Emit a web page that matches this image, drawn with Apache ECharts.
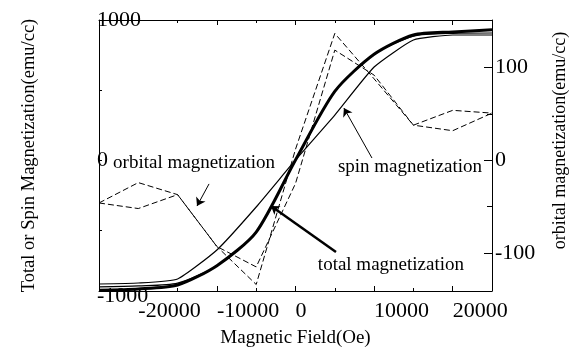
<!DOCTYPE html>
<html>
<head>
<meta charset="utf-8">
<script src="https://cdn.jsdelivr.net/npm/echarts@6/dist/echarts.min.js"></script>
<style>
  html, body { margin: 0; padding: 0; background: #ffffff; }
  #chart { width: 573px; height: 353px; }
</style>
</head>
<body>
<div id="chart"></div>
<script>
// field steps (Oe)
const fieldOe = [-25000, -20000, -15000, -10000, -5000, 0, 5000, 10000, 15000, 20000, 25000];

// left axis (emu/cc)
const totalMag = [-930, -921, -893, -755, -515, 0, 490, 755, 893, 915, 930];
const spinMagA = [-886, -879, -850, -643, -336, 0, 321, 664, 857, 893, 893];
const spinMagB = [-907, -900, -880, -755, -515, 0, 490, 755, 885, 905, 907];

// right axis (emu/cc)
const orbitalA = [-46, -52, -37, -93, -134, 12, 137, 88, 38, 54, 51];
const orbitalB = [-46, -24, -37, -93, -115, -25, 119, 92, 38, 32, 51];

// tick labels
const xLabelValues = [-20000, -10000, 0, 10000, 20000];
const xMajorTicks = [-10000, 0, 10000, 20000];
const xMinorTicks = [-15000, -5000, 5000, 15000];
const leftLabelValues = [-936, 0, 1000];
const leftTicks = [-500, 0, 500];
const rightLabelValues = [-100, 0, 100];
const rightMinorTicks = [-50, 50];

// annotations, in data units of the left axis
const notes = [
  { name: 'orbital magnetization', coord: [-12900, -20] },
  { name: 'spin magnetization', coord: [14560, -50] },
  { name: 'total magnetization', coord: [12140, -750] },
];
const arrows = [
  { from: [-11000, -171], to: [-12530, -329], width: 1 },
  { from: [9730, 14], to: [6160, 371], width: 1 },
  { from: [5150, -657], to: [-3120, -329], width: 2.5 },
];

const FONT = 'Liberation Serif';
const X_MIN = -25000, X_MAX = 25000;
const L_MIN = -936, L_MAX = 1000;
const R_MIN = -141, R_MAX = 151.5;

const pairs = (ys) => fieldOe.map((x, i) => [x, ys[i]]);

const chart = echarts.init(document.getElementById('chart'));

const bareX = (position, ticks, len) => ({
  type: 'value', position, min: X_MIN, max: X_MAX,
  axisLine: { show: false, onZero: false },
  axisTick: { show: true, inside: true, length: len, customValues: ticks, lineStyle: { color: '#000' } },
  axisLabel: { show: false },
  splitLine: { show: false },
});

const option = {
  backgroundColor: '#ffffff',
  animation: false,
  grid: { left: 99, right: 81, top: 20, bottom: 62, outerBoundsMode: 'none' },
  xAxis: [
    {
      type: 'value', position: 'bottom', min: X_MIN, max: X_MAX,
      name: 'Magnetic Field(Oe)', nameLocation: 'middle', nameGap: 38,
      nameTextStyle: { fontFamily: FONT, fontSize: 19, color: '#000' },
      axisLine: { show: true, onZero: false, lineStyle: { color: '#000', width: 1 } },
      axisTick: { show: true, inside: true, length: 5, customValues: xMajorTicks, lineStyle: { color: '#000' } },
      axisLabel: {
        customValues: xLabelValues, align: 'left', margin: 9,
        fontFamily: FONT, fontSize: 22, color: '#000',
        formatter: (v) => String(v),
      },
      splitLine: { show: false },
    },
    bareX('bottom', xMinorTicks, 3),
    {
      type: 'value', position: 'top', min: X_MIN, max: X_MAX,
      axisLine: { show: true, onZero: false, lineStyle: { color: '#000', width: 1 } },
      axisTick: { show: true, inside: true, length: 5, customValues: xMajorTicks, lineStyle: { color: '#000' } },
      axisLabel: { show: false },
      splitLine: { show: false },
    },
    bareX('top', xMinorTicks, 3),
  ],
  yAxis: [
    {
      type: 'value', position: 'left', min: L_MIN, max: L_MAX,
      name: 'Total or Spin Magnetization(emu/cc)', nameLocation: 'middle', nameGap: 60, nameRotate: 90,
      nameTextStyle: { fontFamily: FONT, fontSize: 18.5, color: '#000' },
      axisLine: { show: true, onZero: false, lineStyle: { color: '#000', width: 1 } },
      axisTick: { show: true, inside: true, length: 3, customValues: leftTicks, lineStyle: { color: '#000' } },
      axisLabel: {
        customValues: leftLabelValues, align: 'left', margin: 2,
        fontFamily: FONT, fontSize: 22, color: '#000',
        formatter: (v) => (v < -900 ? '{lo|-1000}' : String(v)),
        rich: { lo: { fontFamily: FONT, fontSize: 22, color: '#000', padding: [10, 0, 0, 0] } },
      },
      splitLine: { show: false },
    },
    {
      type: 'value', position: 'right', min: R_MIN, max: R_MAX,
      name: 'orbital magnetization(emu/cc)', nameLocation: 'middle', nameGap: 59, nameRotate: 90,
      nameTextStyle: { fontFamily: FONT, fontSize: 18, color: '#000', padding: [0, 0, 0, 30] },
      axisLine: { show: true, onZero: false, lineStyle: { color: '#000', width: 1 } },
      axisTick: { show: true, inside: true, length: 8, customValues: rightLabelValues, lineStyle: { color: '#000' } },
      axisLabel: {
        customValues: rightLabelValues, align: 'left', margin: 3,
        fontFamily: FONT, fontSize: 22, color: '#000',
      },
      splitLine: { show: false },
    },
    {
      type: 'value', position: 'right', min: R_MIN, max: R_MAX,
      axisLine: { show: false, onZero: false },
      axisTick: { show: true, inside: true, length: 5, customValues: rightMinorTicks, lineStyle: { color: '#000' } },
      axisLabel: { show: false },
      splitLine: { show: false },
    },
  ],
  series: [
    {
      name: 'orbital A', type: 'line', xAxisIndex: 0, yAxisIndex: 1,
      data: pairs(orbitalA), showSymbol: false,
      lineStyle: { color: '#000', width: 1, type: [6, 3] },
    },
    {
      name: 'orbital B', type: 'line', xAxisIndex: 0, yAxisIndex: 1,
      data: pairs(orbitalB), showSymbol: false,
      lineStyle: { color: '#000', width: 1, type: [6, 3] },
    },
    {
      name: 'spin A', type: 'line', xAxisIndex: 0, yAxisIndex: 0,
      data: pairs(spinMagA), showSymbol: false, smooth: 0.15,
      lineStyle: { color: '#000', width: 1.2 },
    },
    {
      name: 'spin B', type: 'line', xAxisIndex: 0, yAxisIndex: 0,
      data: pairs(spinMagB), showSymbol: false, smooth: 0.25,
      lineStyle: { color: '#000', width: 1.2 },
    },
    {
      name: 'total', type: 'line', xAxisIndex: 0, yAxisIndex: 0,
      data: pairs(totalMag), showSymbol: false, smooth: 0.25,
      lineStyle: { color: '#000', width: 3 },
      markLine: {
        silent: true,
        symbol: ['none', 'arrow'],
        symbolSize: 8,
        label: { show: false },
        data: arrows.map((a) => [
          { coord: a.from, lineStyle: { color: '#000', width: a.width, type: 'solid' } },
          { coord: a.to },
        ]),
      },
      markPoint: {
        silent: true,
        symbol: 'circle',
        symbolSize: 0,
        itemStyle: { color: 'transparent' },
        label: {
          show: true, position: 'inside', color: '#000',
          fontFamily: FONT, fontSize: 19,
          formatter: (p) => p.name,
        },
        data: notes.map((n) => ({ name: n.name, coord: n.coord })),
      },
    },
  ],
};

chart.setOption(option);
</script>
</body>
</html>
